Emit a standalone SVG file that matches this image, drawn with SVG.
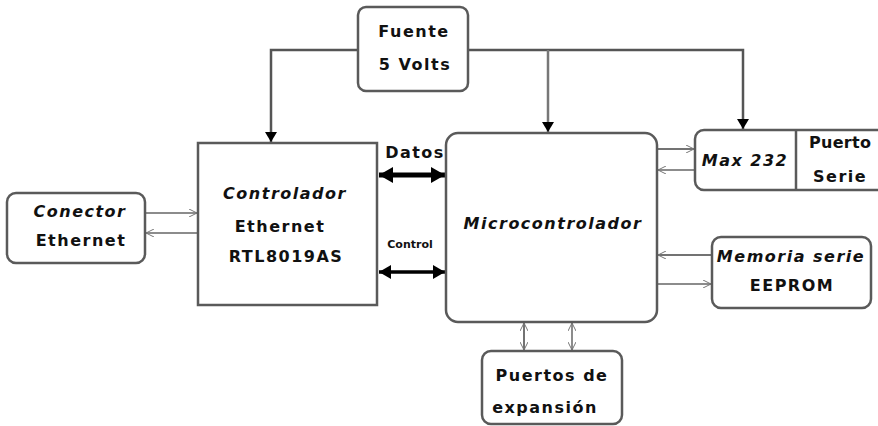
<svg xmlns="http://www.w3.org/2000/svg" width="878" height="426" viewBox="0 0 878 426">
<style>
.box{fill:#fff;stroke:#5a5a5a;stroke-width:2.5}
.t{font-family:"DejaVu Sans","Liberation Sans",Arial,sans-serif;font-weight:bold;font-size:16px;letter-spacing:1.5px;fill:#111;text-anchor:middle}
.ln{fill:none;stroke:#666;stroke-width:1.5}
.pw{fill:none;stroke:#555;stroke-width:2.5}
.thk{fill:none;stroke:#000;stroke-width:5}
.thk2{fill:none;stroke:#000;stroke-width:3.5}
</style>
<defs>
<marker id="tri" viewBox="0 0 10 12" refX="10" refY="6" markerWidth="10" markerHeight="12" markerUnits="userSpaceOnUse" orient="auto">
<path d="M0,0 L10,6 L0,12 Z" fill="#000"/>
</marker>
<marker id="open" viewBox="0 0 8 8" refX="8" refY="4" markerWidth="8" markerHeight="8" markerUnits="userSpaceOnUse" orient="auto-start-reverse">
<path d="M0,0 L8,4 L0,8" fill="none" stroke="#777" stroke-width="1"/>
</marker>
<marker id="big" viewBox="0 0 14 16" refX="14" refY="8" markerWidth="14" markerHeight="16" markerUnits="userSpaceOnUse" orient="auto-start-reverse">
<path d="M0,0 L14,8 L0,16 Z" fill="#000"/>
</marker>
<marker id="mid" viewBox="0 0 12 14" refX="12" refY="7" markerWidth="12" markerHeight="14" markerUnits="userSpaceOnUse" orient="auto-start-reverse">
<path d="M0,0 L12,7 L0,14 Z" fill="#000"/>
</marker>
</defs>
<g id="connectors">
<path class="pw" d="M358,50 H271 V142" marker-end="url(#tri)"/>
<path class="pw" d="M468,50 H743 V129" marker-end="url(#tri)"/>
<path class="pw" d="M548,50 V132" marker-end="url(#tri)" style="stroke:#777"/>
<path class="thk" d="M379,175 H445" marker-start="url(#big)" marker-end="url(#big)"/>
<path class="thk2" d="M379,272 H445" marker-start="url(#mid)" marker-end="url(#mid)"/>
<path class="ln" d="M145,213 H197" marker-end="url(#open)"/>
<path class="ln" d="M197,233 H146" marker-end="url(#open)"/>
<path class="ln" d="M658,149 H694" marker-end="url(#open)" style="stroke:#444"/>
<path class="ln" d="M694,170 H658" marker-end="url(#open)"/>
<path class="ln" d="M711,255 H658" marker-end="url(#open)" style="stroke:#444"/>
<path class="ln" d="M658,284 H711" marker-end="url(#open)"/>
<path class="ln" d="M524,323 V350" marker-start="url(#open)" marker-end="url(#open)" style="stroke:#444"/>
<path class="ln" d="M572,323 V350" marker-start="url(#open)" marker-end="url(#open)"/>
</g>
<g id="fuente">
<rect class="box" x="358" y="7" width="110" height="84" rx="8"/>
<text class="t" x="414" y="37">Fuente</text>
<text class="t" x="415" y="70">5 Volts</text>
</g>
<g id="controlador">
<rect class="box" x="198" y="143" width="179" height="162"/>
<text class="t" x="285" y="199" font-style="italic">Controlador</text>
<text class="t" x="280" y="232">Ethernet</text>
<text class="t" x="286" y="262">RTL8019AS</text>
</g>
<g id="micro">
<rect class="box" x="446" y="133" width="211" height="189" rx="12"/>
<text class="t" x="553" y="229" font-style="italic">Microcontrolador</text>
</g>
<g id="bus-labels">
<text class="t" x="415" y="158">Datos</text>
<text class="t" x="410" y="248" style="font-size:11px;letter-spacing:0">Control</text>
</g>
<g id="conector">
<rect class="box" x="7" y="193" width="138" height="70" rx="9"/>
<text class="t" x="80" y="217" font-style="italic">Conector</text>
<text class="t" x="81" y="246">Ethernet</text>
</g>
<g id="max232">
<rect class="box" x="695" y="130" width="200" height="60" rx="9"/>
<line x1="796" y1="130" x2="796" y2="190" stroke="#5a5a5a" stroke-width="2.5"/>
<text class="t" x="745" y="166" font-style="italic">Max 232</text>
<text class="t" x="809" y="148" style="text-anchor:start;letter-spacing:0.3px">Puerto</text>
<text class="t" x="813" y="182" style="text-anchor:start">Serie</text>
</g>
<g id="memoria">
<rect class="box" x="712" y="237" width="159" height="71" rx="9"/>
<text class="t" x="791" y="262" font-style="italic">Memoria serie</text>
<text class="t" x="792" y="291">EEPROM</text>
</g>
<g id="expansion">
<rect class="box" x="482" y="351" width="140" height="73" rx="9"/>
<text class="t" x="552" y="381">Puertos de</text>
<text class="t" x="545" y="413">expansión</text>
</g>
</svg>
